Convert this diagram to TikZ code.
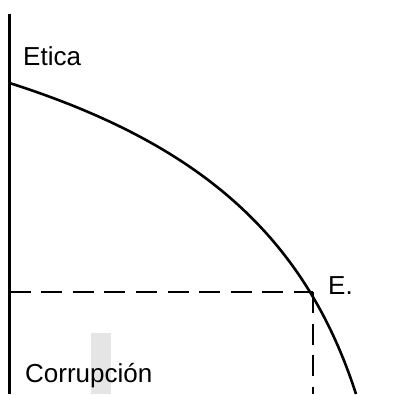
\documentclass[tikz,border=0pt]{standalone}
\usepackage{fontspec}
\setmainfont{Liberation Sans}
\usepackage{tikz}
\tikzset{
    axisline/.style={line width=2.6pt, black},
    frontier/.style={line width=2.6pt, black},
    guide/.style={line width=2.8pt, black, dash pattern=on 21pt off 10.6pt},
    tag/.style={inner sep=0pt, anchor=base west, font=\fontsize{26}{30}\selectfont},
    smudge/.style={fill=black!10, draw=none}
}

\begin{document}
\begin{tikzpicture}[x=1pt, y=-1pt]
    \useasboundingbox (0,0) rectangle (398,394);

    % grey patch behind the lower label
    \fill [smudge] (91,333) rectangle (111,394);

    \coordinate (axistop) at (9.5,13.5);
    \coordinate (axisbottom) at (9.5,394);
    \coordinate (curvestart) at (9.5,83);
    \coordinate (curveend) at (356,394);
    \coordinate (epoint) at (313,292);
    \coordinate (eleft) at (9.5,292);
    \coordinate (ebottom) at (313,394);

    \node (etica) [tag] at (23,65) {Etica};
    \node (elabel) [tag] at (328,294) {E.};
    \node (corrupcion) [tag] at (25,382) {Corrupción};

    \draw [axisline] (axistop) -- (axisbottom);
    \draw [frontier] (curvestart) .. controls (201.6,144.3) and (305.4,237.6) .. (curveend);

    \draw [guide] (eleft) -- (epoint);
    \draw [guide] (epoint) -- (ebottom);
\end{tikzpicture}
\end{document}
